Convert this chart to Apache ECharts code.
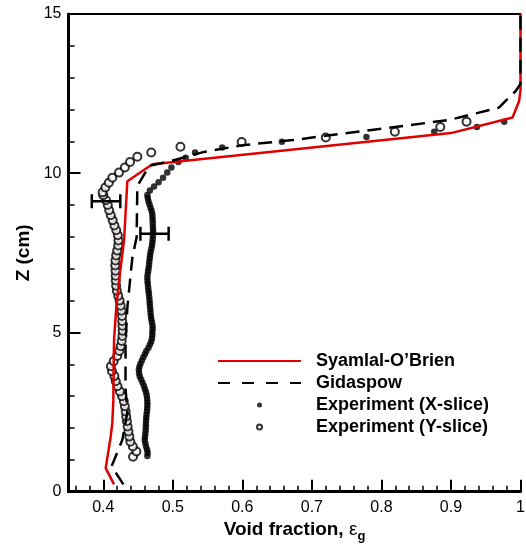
<!DOCTYPE html>
<html>
<head>
<meta charset="utf-8">
<script src="https://cdn.jsdelivr.net/npm/echarts@6/dist/echarts.min.js"></script>
<style>
  html, body { margin: 0; padding: 0; background: #fff; }
  #chart { width: 526px; height: 544px; }
</style>
</head>
<body>
<div id="chart"></div>
<script>
// Axis ticks and labels
const xTickLabels = [0.4, 0.5, 0.6, 0.7, 0.8, 0.9, 1];
const xMinorTicks = [0.36, 0.38, 0.42, 0.44, 0.46, 0.48, 0.52, 0.54, 0.56, 0.58,
  0.62, 0.64, 0.66, 0.68, 0.72, 0.74, 0.76, 0.78, 0.82, 0.84, 0.86, 0.88,
  0.92, 0.94, 0.96, 0.98];

// Syamlal-O'Brien drag model profile
const syamlalX = [0.4155, 0.4035, 0.4107, 0.4130, 0.4145, 0.4148, 0.4155, 0.4188, 0.4241, 0.4300,
  0.4346, 0.4706, 0.9000, 0.9886, 0.9980, 1.0000, 1.0000];
const syamlalZ = [0.23, 0.74, 1.73, 2.16, 2.88, 3.72, 4.77, 5.82, 6.87, 7.92,
  9.75, 10.28, 11.26, 11.75, 12.27, 12.60, 15.00];

// Gidaspow drag model profile
const gidaspowX = [0.4289, 0.4120, 0.4275, 0.4347, 0.4320, 0.4320, 0.4347, 0.4418, 0.4480, 0.4490,
  0.4660, 0.4970, 0.5450, 0.6000, 0.6720, 0.8970, 0.9690, 0.9934, 1.0000, 1.0000];
const gidaspowZ = [0.23, 0.80, 1.63, 2.50, 3.25, 4.70, 5.80, 7.35, 8.00, 9.60,
  10.23, 10.38, 10.67, 10.88, 11.04, 11.67, 12.06, 12.59, 12.80, 15.00];

// Measured void fraction, X-slice
const xSliceZ = [1.12, 1.22, 1.32, 1.42, 1.52, 1.62, 1.72, 1.82, 1.92, 2.02,
  2.12, 2.22, 2.32, 2.42, 2.52, 2.62, 2.72, 2.82, 2.92, 3.02,
  3.12, 3.22, 3.32, 3.42, 3.52, 3.62, 3.72, 3.82, 3.92, 4.02,
  4.12, 4.22, 4.32, 4.42, 4.52, 4.62, 4.72, 4.82, 4.92, 5.02,
  5.12, 5.22, 5.32, 5.42, 5.52, 5.62, 5.72, 5.82, 5.92, 6.02,
  6.12, 6.22, 6.32, 6.42, 6.52, 6.62, 6.72, 6.82, 6.92, 7.02,
  7.12, 7.22, 7.32, 7.42, 7.52, 7.62, 7.72, 7.82, 7.92, 8.02,
  8.12, 8.22, 8.32, 8.42, 8.52, 8.62, 8.72, 8.82, 8.92, 9.02,
  9.12, 9.22, 9.32, 9.46, 9.58, 9.72, 9.86, 10.02, 10.18, 10.35,
  10.49, 10.65, 10.81, 10.99, 11.14, 11.30, 11.45, 11.62];
const xSliceX = [0.4634, 0.4638, 0.4630, 0.4615, 0.4605, 0.4596, 0.4600, 0.4605, 0.4610, 0.4612,
  0.4613, 0.4615, 0.4618, 0.4622, 0.4628, 0.4632, 0.4634, 0.4634, 0.4630, 0.4625,
  0.4615, 0.4600, 0.4585, 0.4565, 0.4545, 0.4525, 0.4515, 0.4512, 0.4520, 0.4535,
  0.4555, 0.4575, 0.4600, 0.4620, 0.4650, 0.4670, 0.4690, 0.4700, 0.4705, 0.4706,
  0.4710, 0.4708, 0.4700, 0.4690, 0.4685, 0.4680, 0.4676, 0.4672, 0.4668, 0.4665,
  0.4660, 0.4655, 0.4650, 0.4645, 0.4640, 0.4636, 0.4634, 0.4638, 0.4645, 0.4652,
  0.4658, 0.4662, 0.4668, 0.4672, 0.4680, 0.4690, 0.4700, 0.4706, 0.4710, 0.4714,
  0.4716, 0.4716, 0.4714, 0.4712, 0.4710, 0.4708, 0.4705, 0.4695, 0.4680, 0.4665,
  0.4650, 0.4640, 0.4634, 0.4670, 0.4730, 0.4795, 0.4860, 0.4920, 0.4980, 0.5080,
  0.5186, 0.5320, 0.5710, 0.6568, 0.7785, 0.8759, 0.9373, 0.9766];

// Measured void fraction, Y-slice
const ySliceZ = [1.10, 1.26, 1.42, 1.57, 1.73, 1.89, 2.05, 2.21, 2.36, 2.52,
  2.68, 2.84, 3.00, 3.15, 3.31, 3.47, 3.63, 3.78, 3.94, 4.10,
  4.26, 4.42, 4.57, 4.73, 4.89, 5.05, 5.21, 5.36, 5.52, 5.68,
  5.84, 6.00, 6.15, 6.31, 6.47, 6.63, 6.78, 6.94, 7.10, 7.26,
  7.42, 7.57, 7.73, 7.89, 8.05, 8.21, 8.36, 8.52, 8.68, 8.84,
  9.00, 9.15, 9.31, 9.40, 9.55, 9.70, 9.86, 10.02, 10.18, 10.35,
  10.52, 10.65, 10.83, 10.98, 11.12, 11.30, 11.45, 11.62];
const ySliceX = [0.4428, 0.4476, 0.4425, 0.4390, 0.4375, 0.4362, 0.4350, 0.4340, 0.4330, 0.4322,
  0.4310, 0.4295, 0.4270, 0.4240, 0.4205, 0.4180, 0.4160, 0.4125, 0.4110, 0.4150,
  0.4200, 0.4230, 0.4250, 0.4265, 0.4275, 0.4278, 0.4275, 0.4272, 0.4270, 0.4262,
  0.4250, 0.4235, 0.4215, 0.4195, 0.4185, 0.4180, 0.4178, 0.4176, 0.4172, 0.4175,
  0.4185, 0.4200, 0.4215, 0.4218, 0.4210, 0.4187, 0.4160, 0.4135, 0.4108, 0.4085,
  0.4065, 0.4040, 0.4000, 0.3990, 0.4030, 0.4080, 0.4130, 0.4226, 0.4310, 0.4385,
  0.4490, 0.4690, 0.5110, 0.5990, 0.7200, 0.8193, 0.8846, 0.9224];

// Measurement uncertainty bars (centre, half-width, height)
const errX = [0.4040, 0.4737];
const errHalf = [0.0205, 0.0203];
const errZ = [9.12, 8.10];

const pairs = (xs, zs) => xs.map((x, i) => [x, zs[i]]);

const FONT = "'Liberation Sans', Arial, Helvetica, sans-serif";
const chart = echarts.init(document.getElementById('chart'), null, { renderer: 'canvas' });

chart.setOption({
  backgroundColor: '#fff',
  animation: false,
  grid: { left: 68.5, right: 5.5, top: 14, bottom: 52.3, containLabel: false, outerBoundsMode: 'none' },
  legend: {
    orient: 'vertical',
    left: 217,
    top: 352,
    padding: 0,
    itemWidth: 83,
    itemHeight: 5,
    itemGap: 4,
    selectedMode: false,
    textStyle: {
      fontFamily: FONT, fontSize: 18, fontWeight: 'bold', color: '#000',
      lineHeight: 18, padding: [0, 0, 0, 10]
    },
    data: [
      { name: 'Syamlal-O’Brien', itemStyle: { opacity: 0 } },
      { name: 'Gidaspow', itemStyle: { opacity: 0 }, lineStyle: { type: [12, 12] } },
      { name: 'Experiment (X-slice)', icon: 'circle' },
      { name: 'Experiment (Y-slice)', icon: 'emptyCircle' }
    ]
  },
  xAxis: [
    {
      type: 'value', min: 0.35, max: 1.0, position: 'bottom',
      name: '{a|Void fraction, }{e|ε}{g|g}',
      nameLocation: 'middle', nameGap: 22,
      nameTextStyle: {
        rich: {
          a: { fontFamily: FONT, fontSize: 19, fontWeight: 'bold', color: '#000' },
          e: { fontFamily: FONT, fontSize: 19, color: '#000' },
          g: { fontFamily: FONT, fontSize: 13, fontWeight: 'bold', color: '#000', padding: [12, 0, 0, 0] }
        }
      },
      axisLine: { show: true, onZero: false, lineStyle: { color: '#000', width: 3 } },
      axisTick: { show: true, inside: true, length: 12, customValues: xTickLabels, lineStyle: { color: '#000', width: 2 } },
      axisLabel: {
        customValues: xTickLabels, margin: 8,
        fontFamily: FONT, fontSize: 16, color: '#000',
        formatter: v => (v === 1 ? '1' : v.toFixed(1))
      },
      splitLine: { show: false }
    },
    {
      type: 'value', min: 0.35, max: 1.0, position: 'bottom',
      axisLine: { show: false },
      axisTick: { show: true, inside: true, length: 6, customValues: xMinorTicks, lineStyle: { color: '#000', width: 1.5 } },
      axisLabel: { show: false },
      splitLine: { show: false }
    },
    {
      type: 'value', min: 0.35, max: 1.0, position: 'top',
      axisLine: { show: true, onZero: false, lineStyle: { color: '#000', width: 2 } },
      axisTick: { show: false },
      axisLabel: { show: false },
      splitLine: { show: false }
    }
  ],
  yAxis: {
    type: 'value', min: 0, max: 15, interval: 5,
    name: 'Z (cm)', nameLocation: 'middle', nameGap: 35, nameRotate: 90,
    nameTextStyle: { fontFamily: FONT, fontSize: 19, fontWeight: 'bold', color: '#000' },
    axisLine: { show: true, onZero: false, lineStyle: { color: '#000', width: 3 } },
    axisTick: { show: true, inside: true, length: 12, lineStyle: { color: '#000', width: 2 } },
    minorTick: { show: true, splitNumber: 5, length: 6, lineStyle: { color: '#000', width: 1.5 } },
    axisLabel: { margin: 7, fontFamily: FONT, fontSize: 16, color: '#000' },
    splitLine: { show: false },
    minorSplitLine: { show: false }
  },
  series: [
    {
      name: 'Experiment (X-slice)', type: 'scatter', xAxisIndex: 0,
      symbol: 'circle', symbolSize: 6.5,
      itemStyle: { color: '#000' },
      data: pairs(xSliceX, xSliceZ), z: 2
    },
    {
      name: 'Experiment (Y-slice)', type: 'scatter', xAxisIndex: 0,
      symbol: 'emptyCircle', symbolSize: 8,
      itemStyle: { color: '#000', borderColor: '#000', borderWidth: 1.2 },
      data: pairs(ySliceX, ySliceZ), z: 2
    },
    {
      name: 'Uncertainty', type: 'custom', xAxisIndex: 0,
      data: errX.map((x, i) => [x, errZ[i], errHalf[i]]),
      renderItem: (params, api) => {
        const x = api.value(0), zv = api.value(1), h = api.value(2);
        const p0 = api.coord([x - h, zv]);
        const p1 = api.coord([x + h, zv]);
        const cap = 7;
        const st = { stroke: '#000', lineWidth: 2.5 };
        return {
          type: 'group',
          children: [
            { type: 'line', shape: { x1: p0[0], y1: p0[1], x2: p1[0], y2: p1[1] }, style: st },
            { type: 'line', shape: { x1: p0[0], y1: p0[1] - cap, x2: p0[0], y2: p0[1] + cap }, style: st },
            { type: 'line', shape: { x1: p1[0], y1: p1[1] - cap, x2: p1[0], y2: p1[1] + cap }, style: st }
          ]
        };
      },
      z: 3
    },
    {
      name: 'Syamlal-O’Brien', type: 'line', xAxisIndex: 0,
      showSymbol: false, symbol: 'none',
      lineStyle: { color: '#e00000', width: 2.5 },
      itemStyle: { color: '#e00000' },
      data: pairs(syamlalX, syamlalZ), z: 4
    },
    {
      name: 'Gidaspow', type: 'line', xAxisIndex: 0,
      showSymbol: false, symbol: 'none',
      lineStyle: { color: '#000', width: 2.5, type: [14, 8] },
      itemStyle: { color: '#000' },
      data: pairs(gidaspowX, gidaspowZ), z: 5
    }
  ]
});
</script>
</body>
</html>
